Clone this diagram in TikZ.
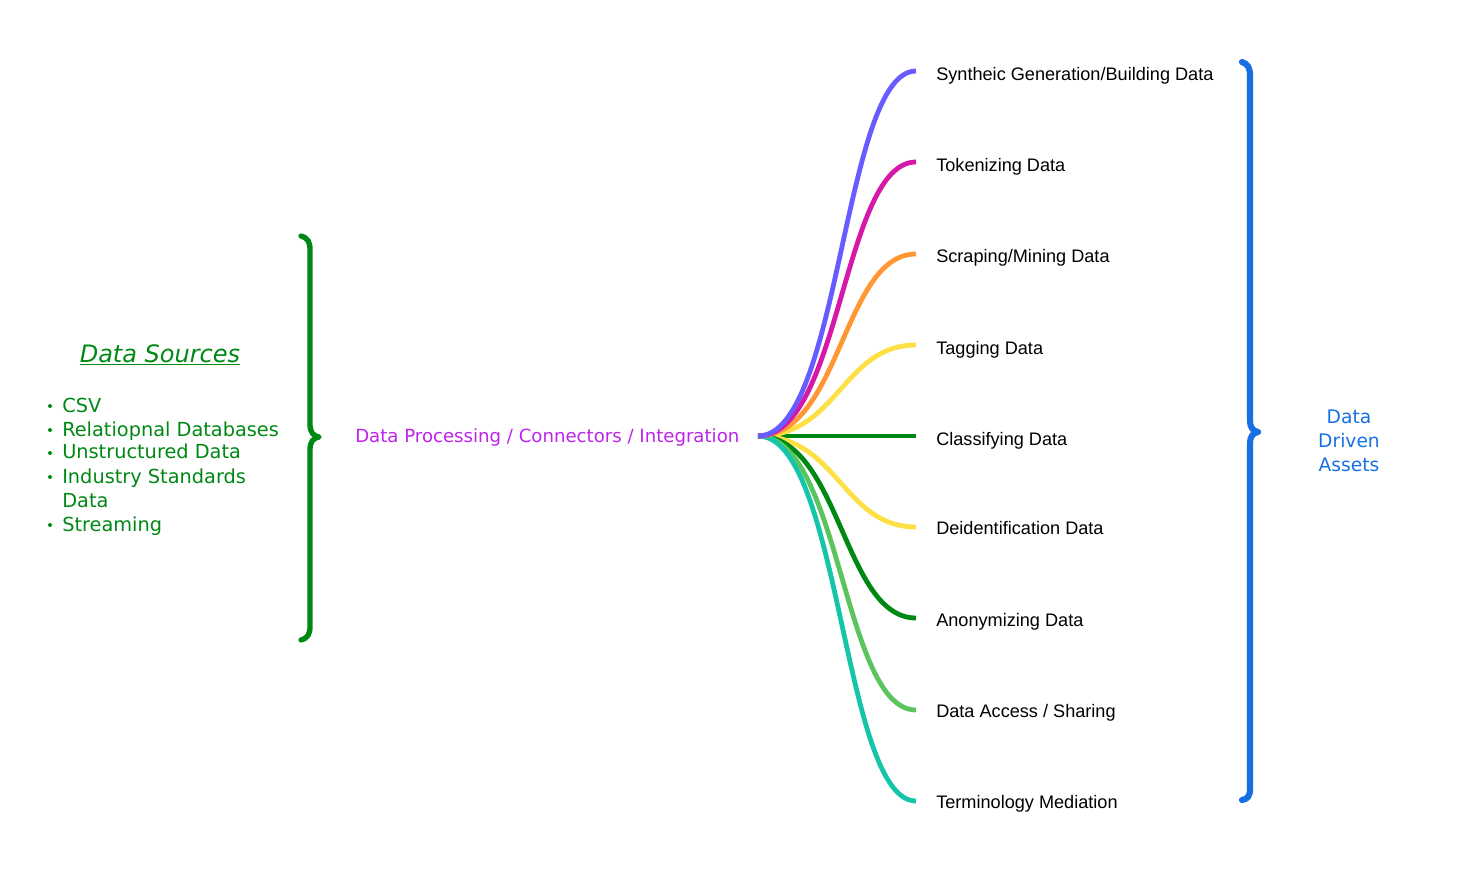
\documentclass[tikz,border=0pt]{standalone}
\usepackage{fontspec}
\setmainfont{DejaVu Sans}
\newfontfamily\arialf{Liberation Sans}
\definecolor{srcgreen}{RGB}{0,136,20}
\definecolor{procviolet}{RGB}{190,35,235}
\definecolor{assetblue}{RGB}{22,112,228}
\definecolor{cpurple}{RGB}{102,92,255}
\definecolor{cmagenta}{RGB}{214,24,168}
\definecolor{corange}{RGB}{255,152,52}
\definecolor{cyellow}{RGB}{255,224,68}
\definecolor{cdgreen}{RGB}{0,136,20}
\definecolor{clgreen}{RGB}{92,196,92}
\definecolor{cteal}{RGB}{22,196,170}
\tikzset{
  lbl/.style={anchor=west, inner sep=0pt, font=\arialf\fontsize{13.6}{16}\selectfont, text=black, text height=9.7pt, text depth=0pt},
  srctext/.style={anchor=west, inner sep=0pt, font=\fontsize{14.5}{17}\selectfont, text=srcgreen, text height=10.5pt, text depth=0pt},
  bul/.style={circle, fill=srcgreen, inner sep=0pt, minimum size=3pt},
  conn/.style={line width=3.6pt, line cap=butt},
  bracepath/.style={line width=4pt, line cap=round, line join=round},
}
\begin{document}
\begin{tikzpicture}[x=0.75pt, y=-0.75pt]
\useasboundingbox (0,0) rectangle (1460,873);

% left side
\node[inner sep=0pt, font=\itshape\fontsize{18}{20}\selectfont, text=srcgreen] (dstitle) at (160,355) {\underline{Data Sources}};
\node[srctext] (s1) at (62,405) {CSV};
\node[srctext] (s2) at (62,429) {Relatiopnal Databases};
\node[srctext] (s3) at (62,452) {Unstructured Data};
\node[srctext] (s4) at (62,476) {Industry Standards};
\node[srctext] (s4b) at (62,500) {Data};
\node[srctext] (s5) at (62,524) {Streaming};
\node[bul] (b1) at (50,406) {};
\node[bul] (b2) at (50,430) {};
\node[bul] (b3) at (50,453) {};
\node[bul] (b4) at (50,477) {};
\node[bul] (b5) at (50,525) {};

% green brace
\draw[bracepath, srcgreen] (301,236) .. controls (308,238) and (310,242) .. (310,250) -- (310,424)
  .. controls (310,432) and (313,436) .. (319,437) .. controls (313,438) and (310,442) .. (310,450)
  -- (310,626) .. controls (310,634) and (308,638) .. (301,640);

% middle
\node[anchor=west, inner sep=0pt, font=\fontsize{13.6}{15}\selectfont, text=procviolet, text height=9.9pt, text depth=0pt] (proc) at (355,436) {Data Processing / Connectors / Integration};

\coordinate (hub) at (758,436);
\coordinate (e1) at (916,71);
\coordinate (e2) at (916,162);
\coordinate (e3) at (916,254);
\coordinate (e4) at (916,345);
\coordinate (e5) at (916,436);
\coordinate (e6) at (916,527);
\coordinate (e7) at (916,618);
\coordinate (e8) at (916,710);
\coordinate (e9) at (916,801);

\draw[conn, cdgreen] (hub) -- (e5);
\draw[conn, cyellow] (hub) .. controls ([xshift=60]hub) and ([xshift=-55]e6) .. (e6);
\draw[conn, cyellow] (hub) .. controls ([xshift=60]hub) and ([xshift=-55]e4) .. (e4);
\draw[conn, cdgreen] (hub) .. controls ([xshift=62]hub) and ([xshift=-55]e7) .. (e7);
\draw[conn, clgreen] (hub) .. controls ([xshift=62]hub) and ([xshift=-55]e8) .. (e8);
\draw[conn, cteal] (hub) .. controls ([xshift=62]hub) and ([xshift=-55]e9) .. (e9);
\draw[conn, corange] (hub) .. controls ([xshift=62]hub) and ([xshift=-55]e3) .. (e3);
\draw[conn, cmagenta] (hub) .. controls ([xshift=62]hub) and ([xshift=-55]e2) .. (e2);
\draw[conn, cpurple] (hub) .. controls ([xshift=62]hub) and ([xshift=-55]e1) .. (e1);

% right labels
\node[lbl] (t1) at (936,74) {Syntheic Generation/Building Data};
\node[lbl] (t2) at (936,165) {Tokenizing Data};
\node[lbl] (t3) at (936,256) {Scraping/Mining Data};
\node[lbl] (t4) at (936,348) {Tagging Data};
\node[lbl] (t5) at (936,439) {Classifying Data};
\node[lbl] (t6) at (936,528) {Deidentification Data};
\node[lbl] (t7) at (936,620) {Anonymizing Data};
\node[lbl] (t8) at (936,711) {Data Access / Sharing};
\node[lbl] (t9) at (936,802) {Terminology Mediation};

% blue brace
\draw[bracepath, assetblue, line width=4.6pt] (1242,62) .. controls (1248,64) and (1250,68) .. (1250,76) -- (1250,420)
  .. controls (1250,428) and (1253,431) .. (1258,432) .. controls (1253,433) and (1250,436) .. (1250,444)
  -- (1250,788) .. controls (1250,796) and (1248,799) .. (1242,800);

\node[align=center, inner sep=0pt, font=\fontsize{14}{18}\selectfont, text=assetblue] (assets) at (1349,441) {Data\\Driven\\Assets};
\end{tikzpicture}
\end{document}
